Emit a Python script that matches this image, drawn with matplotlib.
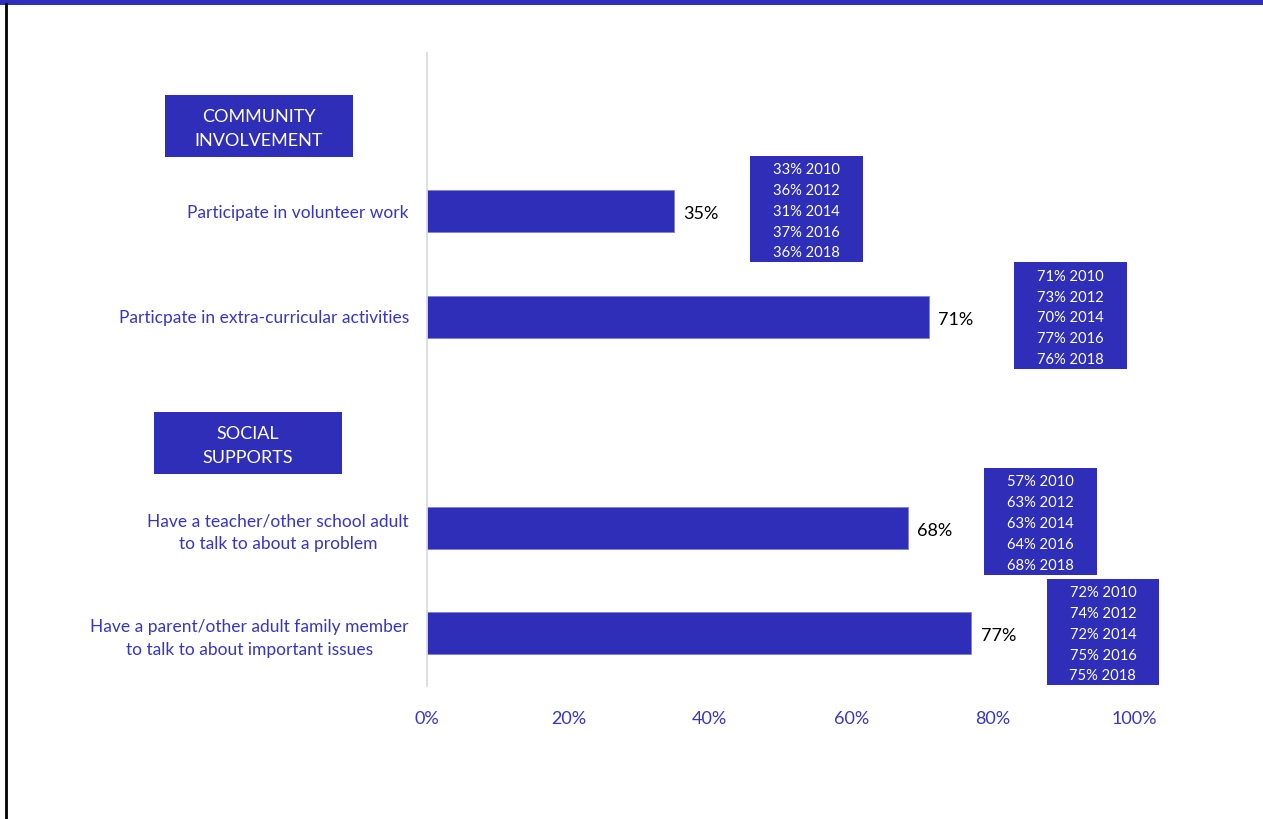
import matplotlib
matplotlib.use("Agg")
import matplotlib.pyplot as plt
from matplotlib.patches import Rectangle
from matplotlib.lines import Line2D

plt.rcParams['font.family'] = ['Lato', 'DejaVu Sans']

# ---- data ----
categories = ["", "Participate in volunteer work",
              "Particpate in extra-curricular activities", "",
              "Have a teacher/other school adult\nto talk to about a problem",
              "Have a parent/other adult family member\nto talk to about important issues"]
values = [None, 35, 71, None, 68, 77]
headers = ["COMMUNITY\nINVOLVEMENT", "SOCIAL\nSUPPORTS"]
years = [2010, 2012, 2014, 2016, 2018]
trend = {
    1: [33, 36, 31, 37, 36],
    2: [71, 73, 70, 77, 76],
    4: [57, 63, 63, 64, 68],
    5: [72, 74, 72, 75, 75],
}
xticks = [0, 20, 40, 60, 80, 100]

# ---- styling / layout ----
BLUE = "#2E2EB8"
LBLUE = "#3535C8"
W, H = 1263, 819
fig = plt.figure(figsize=(W / 100, H / 100), dpi=100)
fig.patch.set_facecolor("white")

ax_l, ax_r, ax_t, ax_b = 427, 1134, 53, 686
ax = fig.add_axes([ax_l / W, 1 - ax_b / H, (ax_r - ax_l) / W, (ax_b - ax_t) / H])
ax.set_xlim(0, 100)
ax.set_ylim(len(categories) - 0.5, -0.5)

ypos = list(range(len(categories)))
for y, v in zip(ypos, values):
    if v is None:
        continue
    ax.barh(y, v, height=0.4, color=BLUE, edgecolor="#8080D8", linewidth=0.6)
    ax.text(v + 1.3, y + 0.03, f"{v}%", va="center", ha="left", fontsize=13, color="black")

ax.set_yticks([y for y, c in zip(ypos, categories) if c])
ax.set_yticklabels([c for c in categories if c], color=LBLUE, fontsize=12.5,
                   ha="right", multialignment="center", linespacing=1.55)
ax.tick_params(axis="y", length=0, pad=13)
ax.set_xticks(xticks)
ax.set_xticklabels([f"{t}%" for t in xticks], color=LBLUE, fontsize=13)
ax.tick_params(axis="x", length=0, pad=18)
for s in ["top", "right", "bottom"]:
    ax.spines[s].set_visible(False)
ax.spines["left"].set_color("#D9D9D9")
ax.spines["left"].set_linewidth(1.2)

# year trend boxes (center x in data units, y offset from bar slot)
box_x = {1: 53.7, 2: 91.0, 4: 86.8, 5: 95.6}
box_dy = {1: -0.02, 2: -0.01, 4: -0.06, 5: -0.01}
box_w, box_h = 15.9, 1.01
line_step = 0.197
for k, vals in trend.items():
    cx, cy = box_x[k], k + box_dy[k]
    ax.add_patch(Rectangle((cx - box_w / 2, cy - box_h / 2), box_w, box_h,
                           facecolor=BLUE, edgecolor="none", clip_on=False, zorder=3))
    for i, (v, yr) in enumerate(zip(vals, years)):
        ax.text(cx, cy + 0.025 + (i - 2) * line_step, f"{v}% {yr}", color="white",
                fontsize=10.6, ha="center", va="center", zorder=4, clip_on=False)

# section header boxes (figure pixels)
hdr_boxes = [(165, 95, 188, 62), (154, 412, 188, 62)]
for (x0, y0, bw, bh), txt in zip(hdr_boxes, headers):
    fig.add_artist(Rectangle((x0 / W, 1 - (y0 + bh) / H), bw / W, bh / H,
                             transform=fig.transFigure, facecolor=BLUE, edgecolor="none"))
    fig.text((x0 + bw / 2) / W, 1 - (y0 + bh / 2 + 3) / H, txt, color="white",
             fontsize=13, ha="center", va="center", linespacing=1.6)

# frame: blue top bar, black left edge
fig.add_artist(Rectangle((0, 1 - 5 / H), 1, 5 / H, transform=fig.transFigure,
                         facecolor=BLUE, edgecolor="none"))
fig.add_artist(Line2D([6 / W, 6 / W], [0, 1 - 4 / H], transform=fig.transFigure,
                      color="black", linewidth=2))

fig.savefig("out.png", dpi=100, facecolor="white")
